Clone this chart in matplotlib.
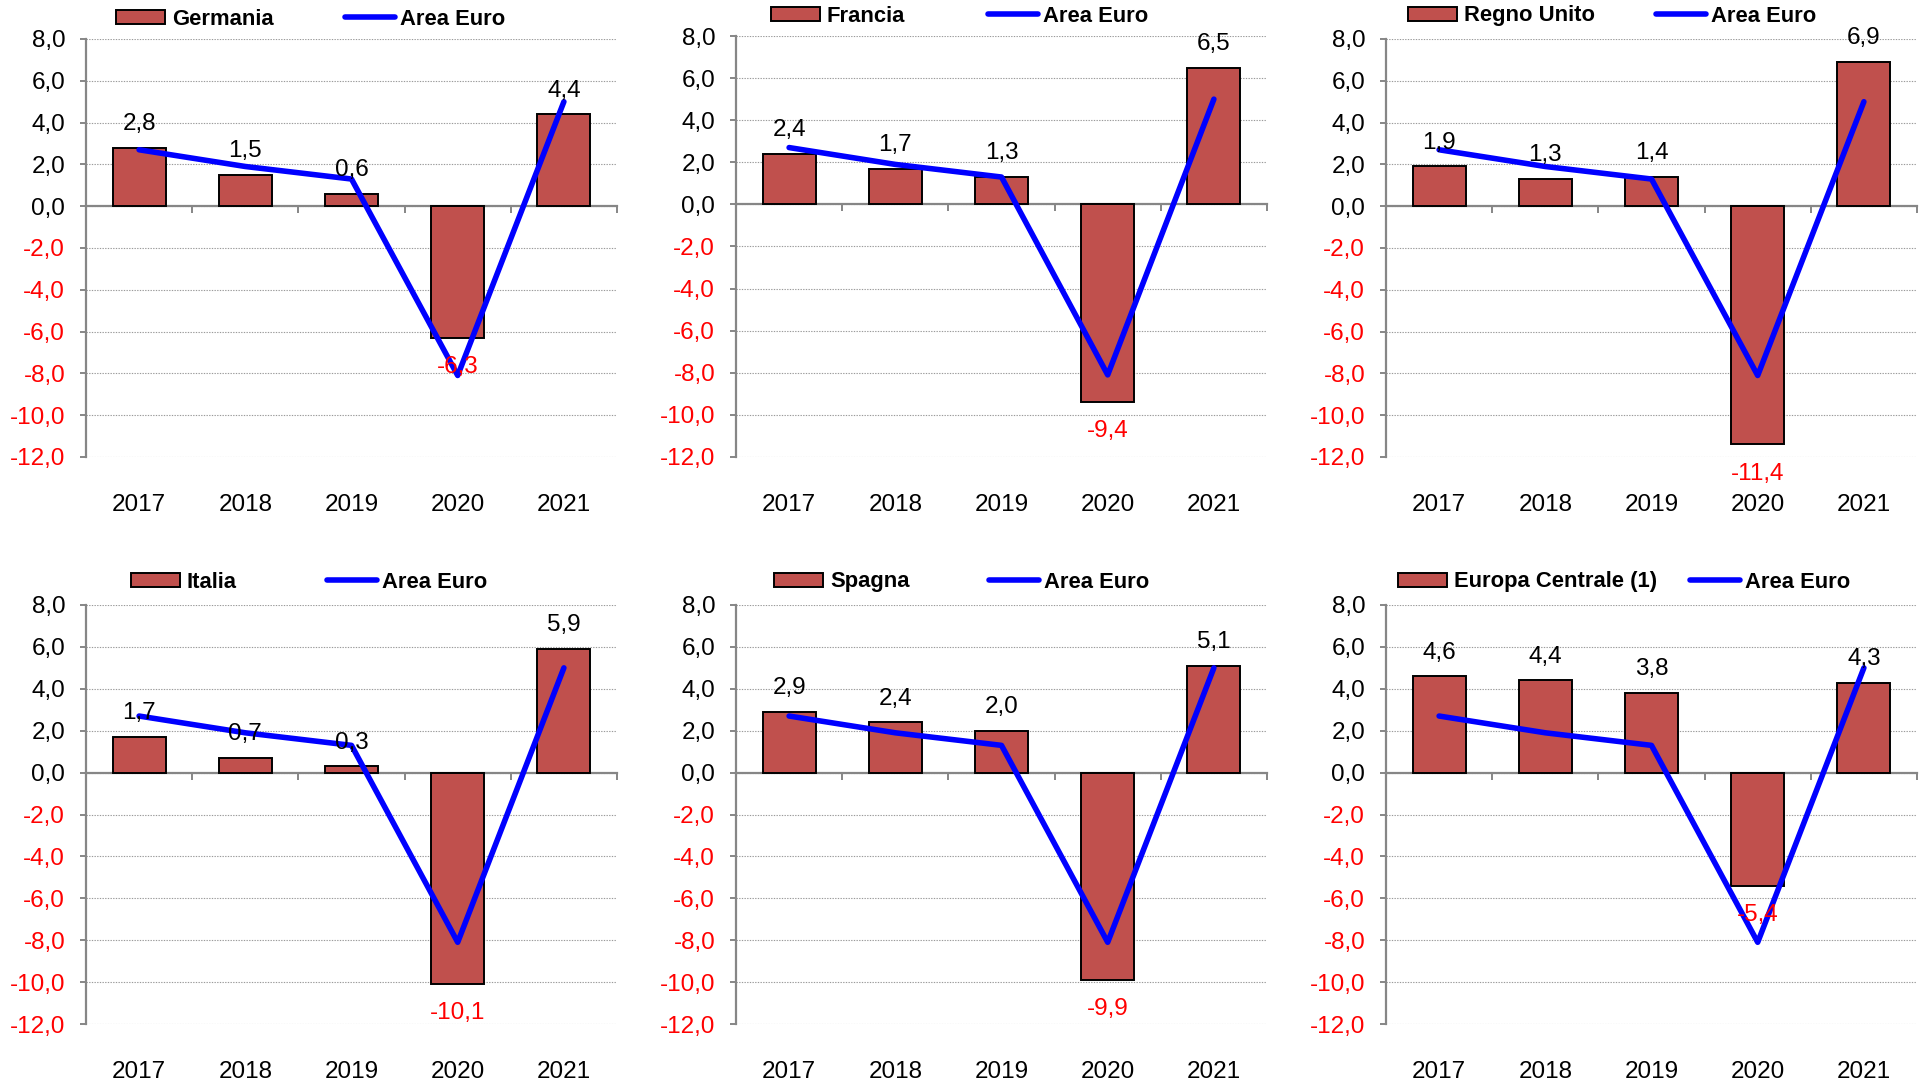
import matplotlib
matplotlib.use("Agg")
import matplotlib.pyplot as plt
from matplotlib.font_manager import FontProperties

# ---------------- data ----------------
years = ["2017", "2018", "2019", "2020", "2021"]
area_euro = [2.7, 1.9, 1.3, -8.1, 5.0]

germania = [2.8, 1.5, 0.6, -6.3, 4.4]
francia = [2.4, 1.7, 1.3, -9.4, 6.5]
regno_unito = [1.9, 1.3, 1.4, -11.4, 6.9]
italia = [1.7, 0.7, 0.3, -10.1, 5.9]
spagna = [2.9, 2.4, 2.0, -9.9, 5.1]
europa_centrale = [4.6, 4.4, 3.8, -5.4, 4.3]

country_names = ["Germania", "Francia", "Regno Unito", "Italia", "Spagna", "Europa Centrale (1)"]
country_values = [germania, francia, regno_unito, italia, spagna, europa_centrale]
line_name = "Area Euro"
y_ticks = [8, 6, 4, 2, 0, -2, -4, -6, -8, -10, -12]

# ---------------- layout (pixels) ----------------
W, H = 1919, 1081
DPI = 100
panel_boxes = [  # left, top, right, bottom
    (86, 39, 617, 457), (736, 36, 1267, 457), (1386, 39, 1917, 457),
    (86, 605, 617, 1024), (736, 605, 1267, 1024), (1386, 605, 1917, 1024),
]
legend_pos = [  # patch x, line x, y centre
    (116, 345, 19.5), (771, 988, 16.5), (1408, 1656, 16.0),
    (131, 327, 582), (774, 989, 582), (1398, 1690, 582),
]

BAR_COLOR = "#C0504D"
LINE_COLOR = "#0000FF"
AXIS_COLOR = "#868686"
FONT = "Liberation Sans"
FS = 17.5
LFS = 15.8

plt.rcParams["font.family"] = [FONT, "DejaVu Sans"]
fig = plt.figure(figsize=(W / DPI, H / DPI), dpi=DPI)

def fmt(v):
    return f"{v:.1f}".replace(".", ",")

for i, (name, vals) in enumerate(zip(country_names, country_values)):
    l, t, r, b = panel_boxes[i]
    ax = fig.add_axes([l / W, 1 - b / H, (r - l) / W, (b - t) / H])
    x = list(range(len(years)))
    bars = ax.bar(x, vals, width=0.5, color=BAR_COLOR, edgecolor="black",
                  linewidth=1.4, zorder=3)
    ln, = ax.plot(x, area_euro, color=LINE_COLOR, linewidth=4.0, zorder=4,
                  solid_joinstyle="round", solid_capstyle="round")
    ax.set_xlim(-0.5, len(years) - 0.5)
    ax.set_ylim(-12, 8)

    # grid
    ax.set_yticks(y_ticks)
    ax.set_yticklabels([fmt(v) for v in y_ticks], fontsize=FS)
    for lab, v in zip(ax.get_yticklabels(), y_ticks):
        lab.set_color("red" if v < 0 else "black")
    ax.yaxis.grid(True, linestyle=(0, (1.2, 1.2)), linewidth=0.8, color="#9A9A9A", zorder=0)
    ax.set_axisbelow(True)

    for s in ["top", "right"]:
        ax.spines[s].set_visible(False)
    ax.spines["left"].set_color(AXIS_COLOR)
    ax.spines["left"].set_linewidth(1.6)
    ax.spines["bottom"].set_position(("data", 0))
    ax.spines["bottom"].set_color(AXIS_COLOR)
    ax.spines["bottom"].set_linewidth(1.6)
    ax.spines["bottom"].set_zorder(2)

    ax.set_xticks([k - 0.5 for k in range(len(years) + 1)])
    ax.set_xticklabels([])
    ax.tick_params(axis="x", direction="out", length=5, width=1.4, color=AXIS_COLOR)
    ax.tick_params(axis="y", direction="out", length=4.5, width=1.4, color=AXIS_COLOR,
                   pad=10.5)

    # category labels at the bottom
    for k, yr in enumerate(years):
        ax.text(k, -0.115, yr, transform=ax.get_xaxis_transform(), ha="center",
                va="center", fontsize=FS, color="black")

    # data labels
    for k, v in enumerate(vals):
        if v >= 0:
            ax.annotate(fmt(v), (k, v), xytext=(0, 17), textcoords="offset points",
                        ha="center", va="center", fontsize=FS, color="black", zorder=5)
        else:
            ax.annotate(fmt(v), (k, v), xytext=(0, -21), textcoords="offset points",
                        ha="center", va="center", fontsize=FS, color="red", zorder=5)

    # legends
    px, lx, yc = legend_pos[i]
    bold = FontProperties(family=FONT, weight="bold", size=LFS)
    fig.legend([bars], [name], loc="center left", bbox_to_anchor=(px / W, 1 - yc / H),
               frameon=False, borderpad=0, borderaxespad=0, handlelength=2.25,
               handleheight=0.6, handletextpad=0.3, prop=bold)
    fig.legend([ln], [line_name], loc="center left", bbox_to_anchor=(lx / W, 1 - yc / H),
               frameon=False, borderpad=0, borderaxespad=0, handlelength=2.3,
               handletextpad=0.2, prop=bold)

fig.savefig("out.png", dpi=DPI)
